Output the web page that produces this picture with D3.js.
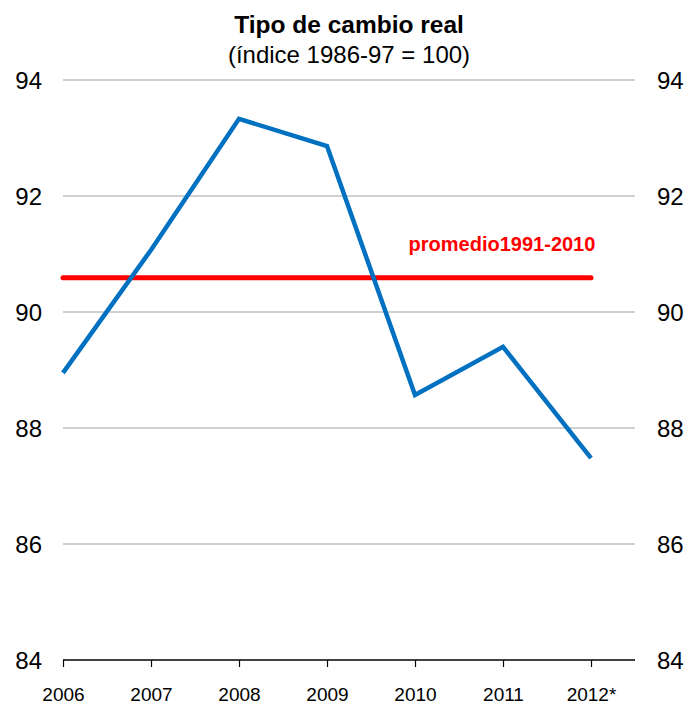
<!DOCTYPE html>
<html>
<head>
<meta charset="utf-8">
<script src="https://cdn.jsdelivr.net/npm/d3@7/dist/d3.min.js"></script>
<style>
  body { margin: 0; background: #fff; }
  text { font-family: "Liberation Sans", Arial, sans-serif; }
</style>
</head>
<body>
<svg id="chart" width="689" height="705"></svg>
<script>
const years = ['2006', '2007', '2008', '2009', '2010', '2011', '2012*'];
const tcr = [88.95, 91.07, 93.33, 92.86, 88.57, 89.40, 87.48];
const promedio = 90.59;
const yTicks = [84, 86, 88, 90, 92, 94];

const width = 689, height = 705;
const margin = { top: 80, right: 54, bottom: 45, left: 63 };

const svg = d3.select('#chart');

const x = d3.scalePoint()
  .domain(years)
  .range([margin.left, 591]);

const y = d3.scaleLinear()
  .domain([84, 94])
  .range([height - margin.bottom, margin.top]);

// gridlines
svg.append('g')
  .selectAll('line')
  .data(yTicks.filter(d => d !== 84))
  .join('line')
  .attr('x1', margin.left)
  .attr('x2', width - margin.right)
  .attr('y1', d => y(d))
  .attr('y2', d => y(d))
  .attr('stroke', '#c0c0c0')
  .attr('stroke-width', 1.5);

// x axis
const xAxis = svg.append('g')
  .attr('transform', `translate(0,${y(84)})`)
  .call(d3.axisBottom(x).tickSize(7).tickSizeOuter(0));
xAxis.select('.domain').remove();
xAxis.append('line')
  .attr('x1', margin.left)
  .attr('x2', width - margin.right)
  .attr('stroke', '#000')
  .attr('stroke-width', 1.5);
xAxis.selectAll('.tick line').attr('stroke', '#000').attr('stroke-width', 1.2);
xAxis.selectAll('.tick text')
  .attr('y', 28)
  .attr('fill', '#000')
  .style('font-size', '19px')
  .style('font-family', '"Liberation Sans", Arial, sans-serif');

// y labels both sides
svg.append('g')
  .selectAll('text')
  .data(yTicks)
  .join('text')
  .attr('x', 42)
  .attr('y', d => y(d))
  .attr('dy', '0.37em')
  .attr('text-anchor', 'end')
  .style('font-size', '24px')
  .text(d => d);

svg.append('g')
  .selectAll('text')
  .data(yTicks)
  .join('text')
  .attr('x', 657)
  .attr('y', d => y(d))
  .attr('dy', '0.37em')
  .attr('text-anchor', 'start')
  .style('font-size', '24px')
  .text(d => d);

// average line
svg.append('line')
  .attr('x1', x(years[0]))
  .attr('x2', x(years[years.length - 1]))
  .attr('y1', y(promedio))
  .attr('y2', y(promedio))
  .attr('stroke', '#ff0000')
  .attr('stroke-width', 5)
  .attr('stroke-linecap', 'round');

svg.append('text')
  .attr('x', 502)
  .attr('y', y(promedio) - 27)
  .attr('text-anchor', 'middle')
  .attr('fill', '#ff0000')
  .style('font-size', '20px')
  .style('font-weight', 'bold')
  .text('promedio1991-2010');

// series
const lineGen = d3.line()
  .x((d, i) => x(years[i]))
  .y(d => y(d));

svg.append('path')
  .datum(tcr)
  .attr('d', lineGen)
  .attr('fill', 'none')
  .attr('stroke', '#0070c0')
  .attr('stroke-width', 4.5)
  .attr('stroke-linejoin', 'miter');

// title
svg.append('text')
  .attr('x', 349)
  .attr('y', 33)
  .attr('text-anchor', 'middle')
  .style('font-size', '24.5px')
  .style('font-weight', 'bold')
  .text('Tipo de cambio  real');

svg.append('text')
  .attr('x', 349)
  .attr('y', 63)
  .attr('text-anchor', 'middle')
  .style('font-size', '24px')
  .text('(índice 1986-97 = 100)');
</script>
</body>
</html>
